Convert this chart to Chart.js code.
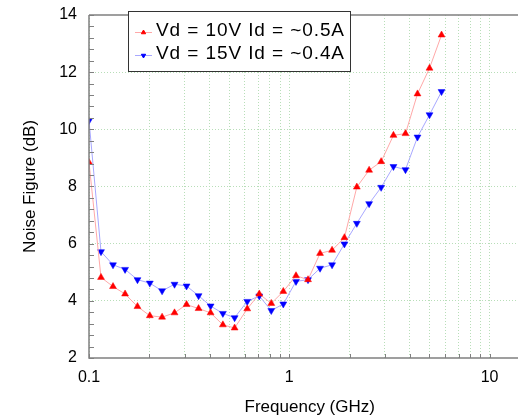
<!DOCTYPE html>
<html><head><meta charset="utf-8">
<script src="https://cdn.jsdelivr.net/npm/chart.js@4.4.1/dist/chart.umd.min.js"></script>
<style>
html,body{margin:0;padding:0;background:#fff;overflow:hidden;width:518px;height:419px}
canvas{display:block}
</style>
</head><body><canvas id="c" width="535" height="419" style="width:535px;height:419px"></canvas>
<script>
// Frequency points (GHz)
const freqGHz = [0.100, 0.1148, 0.1318, 0.1514, 0.1746, 0.2012, 0.2317, 0.2673, 0.3069, 0.3524,
  0.4046, 0.4660, 0.5333, 0.6166, 0.7079, 0.8128, 0.9333, 1.080, 1.240, 1.424,
  1.635, 1.884, 2.173, 2.503, 2.874, 3.311, 3.802, 4.365, 5.012, 5.754];
// Noise figure (dB), Vd = 10V
const nfVd10 = [8.84, 4.82, 4.50, 4.24, 3.80, 3.48, 3.43, 3.58, 3.87, 3.73,
  3.58, 3.16, 3.05, 3.72, 4.24, 3.91, 4.33, 4.88, 4.74, 5.66,
  5.77, 6.21, 7.98, 8.57, 8.87, 9.79, 9.85, 11.24, 12.14, 13.30];
// Noise figure (dB), Vd = 15V
const nfVd15 = [10.31, 5.72, 5.26, 5.10, 4.74, 4.62, 4.35, 4.58, 4.52, 4.18,
  3.82, 3.56, 3.41, 3.98, 4.17, 3.66, 3.89, 4.68, 4.74, 5.14,
  5.26, 5.99, 6.71, 7.40, 7.97, 8.70, 8.59, 9.73, 10.51, 11.32];
const seriesLabels = ['Vd = 10V Id = ~0.5A', 'Vd = 15V Id = ~0.4A'];
const xGridValues = [0.1,0.2,0.3,0.4,0.5,0.6,0.7,0.8,0.9,1,2,3,4,5,6,7,8,9,10];
const xTickLabels = {0.1:'0.1', 1:'1', 10:'10'};
const yTickValues = [2,4,6,8,10,12,14];

const GREEN = '#b8deb8';
const AXIS = '#808080';
const FONT = 'Liberation Sans, Arial, Helvetica, sans-serif';

const toXY = (ys) => freqGHz.map((f, i) => ({x: f, y: ys[i]}));

const frame = {
  id: 'frame',
  afterDraw(chart) {
    const {ctx, chartArea: a, scales: {x, y}} = chart;
    ctx.save();
    ctx.strokeStyle = AXIS;
    ctx.lineWidth = 1.5;
    ctx.beginPath();
    ctx.moveTo(a.left, a.top); ctx.lineTo(a.right, a.top);
    ctx.moveTo(a.left, a.top); ctx.lineTo(a.left, a.bottom);
    ctx.lineTo(a.right, a.bottom);
    ctx.stroke();
    ctx.lineWidth = 1;
    ctx.beginPath();
    for (let v = 2; v <= 14.001; v += 0.4) {
      const py = Math.round(y.getPixelForValue(v)) + 0.5;
      ctx.moveTo(a.left, py); ctx.lineTo(a.left + 5, py);
    }
    xGridValues.forEach(v => {
      const px = Math.round(x.getPixelForValue(v)) + 0.5;
      ctx.moveTo(px, a.bottom); ctx.lineTo(px, a.bottom - 4);
    });
    ctx.stroke();

    // legend
    const bx = 128.5, by = 11.5, bw = 222, bh = 60;
    ctx.fillStyle = '#fff';
    ctx.fillRect(bx, by, bw, bh);
    ctx.strokeStyle = '#333';
    ctx.lineWidth = 1;
    ctx.strokeRect(bx, by, bw, bh);
    const rows = [30, 53];
    chart.data.datasets.forEach((ds, i) => {
      const ly = rows[i] + 2.5;
      ctx.strokeStyle = ds.borderColor;
      ctx.lineWidth = 1;
      ctx.beginPath(); ctx.moveTo(135, ly); ctx.lineTo(152, ly); ctx.stroke();
      ctx.fillStyle = ds.pointBackgroundColor;
      ctx.strokeStyle = ds.pointBackgroundColor;
      Chart.helpers.drawPoint(ctx, {pointStyle: 'triangle', rotation: ds.pointRotation, radius: 2.5, borderWidth: 0.5}, 143.5, ly);
      ctx.fillStyle = '#000';
      ctx.font = '19px ' + FONT;
      ctx.textBaseline = 'middle';
      ctx.textAlign = 'left';
      const w = ctx.measureText(ds.label).width;
      const target = 188;
      ctx.letterSpacing = ((target - w) / (ds.label.length - 1)).toFixed(2) + 'px';
      ctx.fillText(ds.label, 156, rows[i] + 1);
      ctx.letterSpacing = '0px';
    });
    ctx.restore();
  }
};

new Chart(document.getElementById('c'), {
  type: 'scatter',
  data: {
    datasets: [
      {label: seriesLabels[0], data: toXY(nfVd10), showLine: true,
       borderColor: '#ffa8a8', borderWidth: 1, pointStyle: 'triangle', pointRotation: 0,
       pointRadius: 4, pointBackgroundColor: '#ff0000', pointBorderColor: '#ff0000', pointBorderWidth: 0.5},
      {label: seriesLabels[1], data: toXY(nfVd15), showLine: true,
       borderColor: '#a8a8ff', borderWidth: 1, pointStyle: 'triangle', pointRotation: 180,
       pointRadius: 4, pointBackgroundColor: '#0000ff', pointBorderColor: '#0000ff', pointBorderWidth: 0.5}
    ]
  },
  options: {
    responsive: false, animation: false, devicePixelRatio: 1,
    layout: {padding: {top: 15, left: 0, right: 0, bottom: 0}},
    plugins: {legend: {display: false}, tooltip: {enabled: false}},
    scales: {
      x: {
        type: 'logarithmic', min: 0.1, max: 16,
        afterBuildTicks: s => { s.ticks = xGridValues.map(v => ({value: v})); },
        afterFit: s => { s.height = 61; s.paddingRight = 0; s.paddingLeft = 0; },
        ticks: {autoSkip: false, maxRotation: 0, padding: 10, color: '#000',
          font: {family: FONT, size: 16},
          callback: v => (xTickLabels[v] !== undefined ? xTickLabels[v] : '')},
        grid: {color: GREEN, lineWidth: 1, drawTicks: false},
        border: {display: false, dash: [1, 2]},
        title: {display: true, text: 'Frequency (GHz)', color: '#000',
          font: {family: FONT, size: 17}, padding: {top: 0, bottom: 1}}
      },
      y: {
        type: 'linear', min: 2, max: 14,
        afterBuildTicks: s => { s.ticks = yTickValues.map(v => ({value: v})); },
        afterFit: s => { s.width = 89; s.paddingTop = 0; s.paddingBottom = 0; },
        ticks: {padding: 12, color: '#000', font: {family: FONT, size: 16}},
        grid: {color: c => (c.tick && (c.tick.value === 2 || c.tick.value === 14)) ? 'rgba(0,0,0,0)' : GREEN,
          lineWidth: 1, drawTicks: false},
        border: {display: false, dash: [1, 2]},
        title: {display: true, text: 'Noise Figure (dB)', color: '#000',
          font: {family: FONT, size: 17}, padding: {top: 20, bottom: 0}}
      }
    }
  },
  plugins: [frame]
});
</script>
</body></html>
